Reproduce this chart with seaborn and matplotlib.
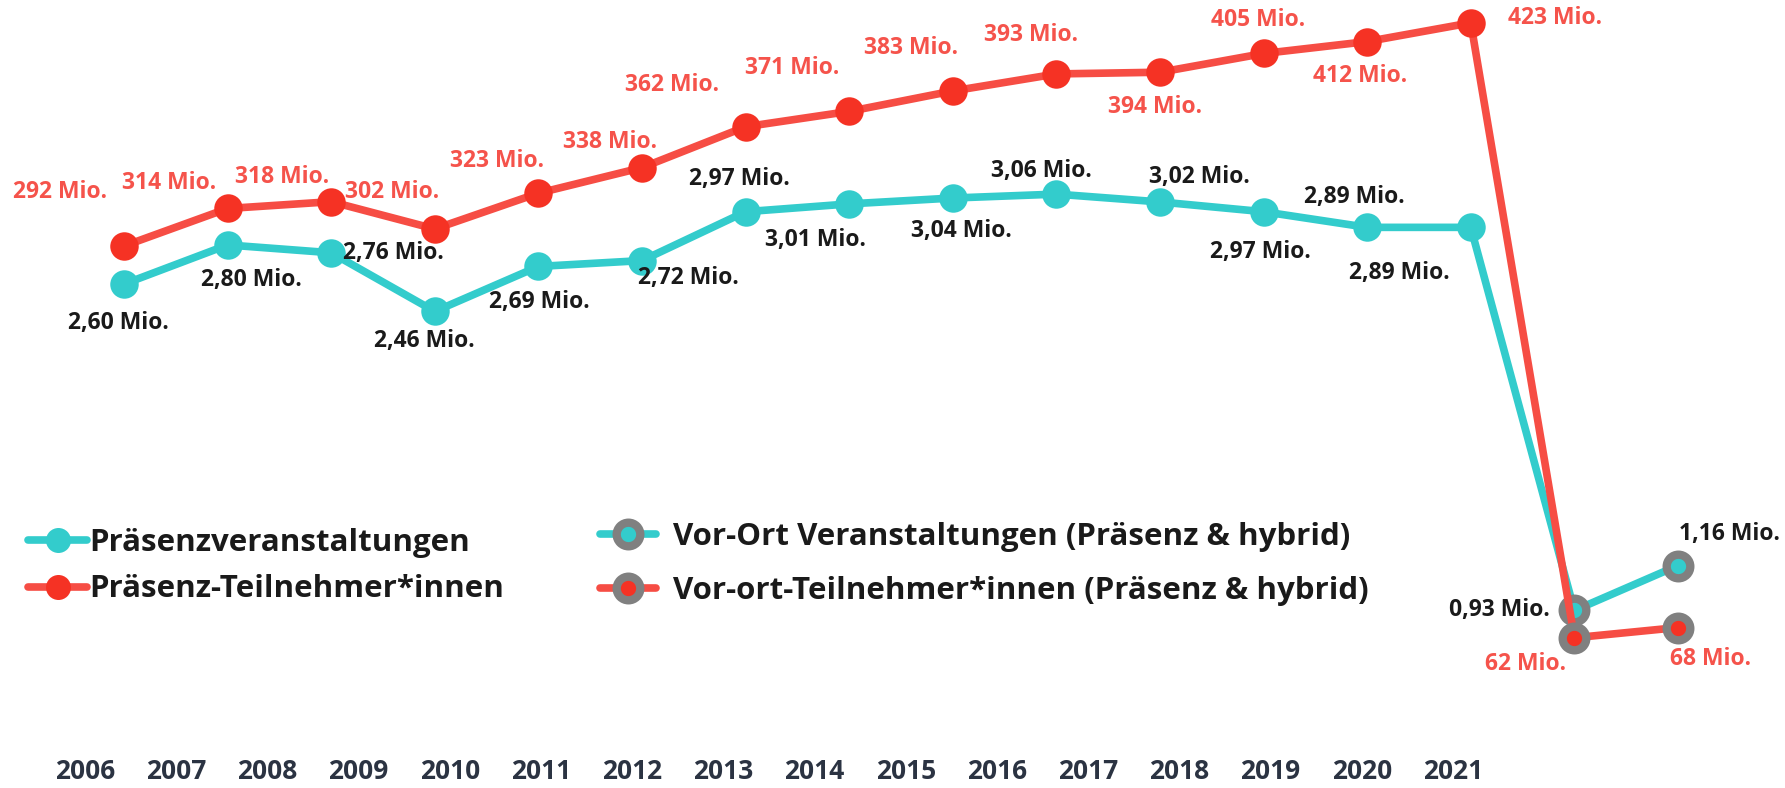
import matplotlib
matplotlib.use("Agg")
import matplotlib.pyplot as plt
import seaborn as sns
import pandas as pd
from matplotlib.lines import Line2D

# ---------------- data ----------------
years = [2006, 2007, 2008, 2009, 2010, 2011, 2012, 2013,
         2014, 2015, 2016, 2017, 2018, 2019, 2020, 2021]
events_mio = [2.60, 2.80, 2.76, 2.46, 2.69, 2.72, 2.97, 3.01,
              3.04, 3.06, 3.02, 2.97, 2.89, 2.89, 0.93, 1.16]
participants_mio = [292, 314, 318, 302, 323, 338, 362, 371,
                    383, 393, 394, 405, 412, 423, 62, 68]
n_presence = 14  # first 14 points: presence only; last 2: on-site (presence & hybrid)

legend_labels = ["Präsenzveranstaltungen", "Präsenz-Teilnehmer*innen",
                 "Vor-Ort Veranstaltungen (Präsenz & hybrid)",
                 "Vor-ort-Teilnehmer*innen (Präsenz & hybrid)"]

# ---------------- style ----------------
TEAL = "#33CCCC"
RED_LINE = "#F64D44"
RED_DOT = "#F53224"
RED_TXT = "#F5534B"
GREY = "#808080"
TXT = "#1A1A1A"
YEAR_C = "#2B3342"

# label offsets in pixels (dx, dy up)
ev_off = [(-6, -39), (24, -35), (62, 0), (-10, -30), (1, -36), (46, -17),
          (-6, 33), (-34, -36), (9, -33), (-15, 23), (39, 25), (-3, -40),
          (-13, 30), (-71, -46), (-75, 0), (51, 32)]
tn_off = [(-64, 54), (-59, 25), (-49, 25), (-43, 37), (-41, 32), (-32, 26),
          (-74, 42), (-57, 43), (-42, 43), (-25, 39), (-5, -35), (-6, 33),
          (-7, -34), (84, 5), (-49, -26), (33, -31)]

sns.set_theme(style="white")
plt.rcParams["font.family"] = ["Open Sans", "DejaVu Sans"]
plt.rcParams["font.weight"] = "bold"

fig = plt.figure(figsize=(17.85, 7.88), dpi=100)
ax = fig.add_axes([0, 0, 1, 1])
ax2 = ax.twinx()

idx = list(range(len(years)))
df = pd.DataFrame({"idx": idx, "year": years, "ev": events_mio, "tn": participants_mio})
pre = df.iloc[:n_presence]
post = df.iloc[n_presence:]

LW = 5.5
MS = 20.5
RMS, RMEW = 17, 6
# teal series
sns.lineplot(data=df, x="idx", y="ev", ax=ax, color=TEAL, lw=LW, zorder=2)
sns.lineplot(data=pre, x="idx", y="ev", ax=ax, color=TEAL, lw=0, marker="o",
             markersize=MS, markeredgewidth=0, markerfacecolor=TEAL, zorder=3)
sns.lineplot(data=post, x="idx", y="ev", ax=ax, color=TEAL, lw=0, marker="o",
             markersize=RMS, markeredgewidth=RMEW, markerfacecolor=TEAL,
             markeredgecolor=GREY, zorder=3)
# red series
sns.lineplot(data=df, x="idx", y="tn", ax=ax2, color=RED_LINE, lw=LW, zorder=2)
sns.lineplot(data=pre, x="idx", y="tn", ax=ax2, color=RED_DOT, lw=0, marker="o",
             markersize=MS, markeredgewidth=0, markerfacecolor=RED_DOT, zorder=3)
sns.lineplot(data=post, x="idx", y="tn", ax=ax2, color=RED_DOT, lw=0, marker="o",
             markersize=RMS, markeredgewidth=RMEW, markerfacecolor=RED_DOT,
             markeredgecolor=GREY, zorder=3)

ax.set_xlim(-1.197, 16.033)
ax.set_ylim(0.022, 4.053)
ax2.set_ylim(-26.2, 436.4)
for a in (ax, ax2):
    a.axis("off")

# value labels
LFS = 16.5
for i, v in enumerate(events_mio):
    ax.annotate(f"{v:.2f}".replace(".", ",") + " Mio.", (i, v),
                xytext=ev_off[i], textcoords="offset pixels",
                ha="center", va="center", fontsize=LFS, fontweight="bold",
                color=TXT, zorder=5)
for i, v in enumerate(participants_mio):
    ax2.annotate(f"{v} Mio.", (i, v), xytext=tn_off[i], textcoords="offset pixels",
                 ha="center", va="center", fontsize=LFS, fontweight="bold",
                 color=RED_TXT, zorder=5)

# year axis
ax3 = fig.add_axes([0, 30 / 788, 1, 0.3])
ax3.patch.set_alpha(0)
ax3.set_xlim(-0.931, 18.64)
ax3.set_xticks(idx)
ax3.set_xticklabels([str(y) for y in years], fontsize=19, fontweight="bold", color=YEAR_C)
ax3.set_yticks([])
ax3.tick_params(axis="x", length=0, pad=0)
for s in ax3.spines.values():
    s.set_visible(False)

# legends
h1 = Line2D([], [], color=TEAL, lw=LW, marker="o", markersize=18,
            markerfacecolor=TEAL, markeredgewidth=0)
h2 = Line2D([], [], color=RED_LINE, lw=LW, marker="o", markersize=18,
            markerfacecolor=RED_DOT, markeredgewidth=0)
h3 = Line2D([], [], color=TEAL, lw=LW, marker="o", markersize=RMS,
            markerfacecolor=TEAL, markeredgecolor=GREY, markeredgewidth=RMEW)
h4 = Line2D([], [], color=RED_LINE, lw=LW, marker="o", markersize=RMS,
            markerfacecolor=RED_DOT, markeredgecolor=GREY, markeredgewidth=RMEW)

LGFS = 22.5
leg1 = ax3.legend(handles=[h1, h2], labels=legend_labels[:2], loc="center left",
                  bbox_to_anchor=(28 / 1785, 1 - 566 / 788), bbox_transform=fig.transFigure,
                  frameon=False, fontsize=LGFS, handlelength=1.89, handletextpad=0.06,
                  labelspacing=0.54, borderpad=0, borderaxespad=0)
for t in leg1.get_texts():
    t.set_fontweight("bold"); t.set_color(TXT)
ax3.add_artist(leg1)
leg2 = ax3.legend(handles=[h3, h4], labels=legend_labels[2:], loc="center left",
                  bbox_to_anchor=(600 / 1785, 1 - 564 / 788), bbox_transform=fig.transFigure,
                  frameon=False, fontsize=LGFS, handlelength=1.8, handletextpad=0.54,
                  labelspacing=0.75, borderpad=0, borderaxespad=0)
for t in leg2.get_texts():
    t.set_fontweight("bold"); t.set_color(TXT)

fig.savefig("out.png", dpi=100)
